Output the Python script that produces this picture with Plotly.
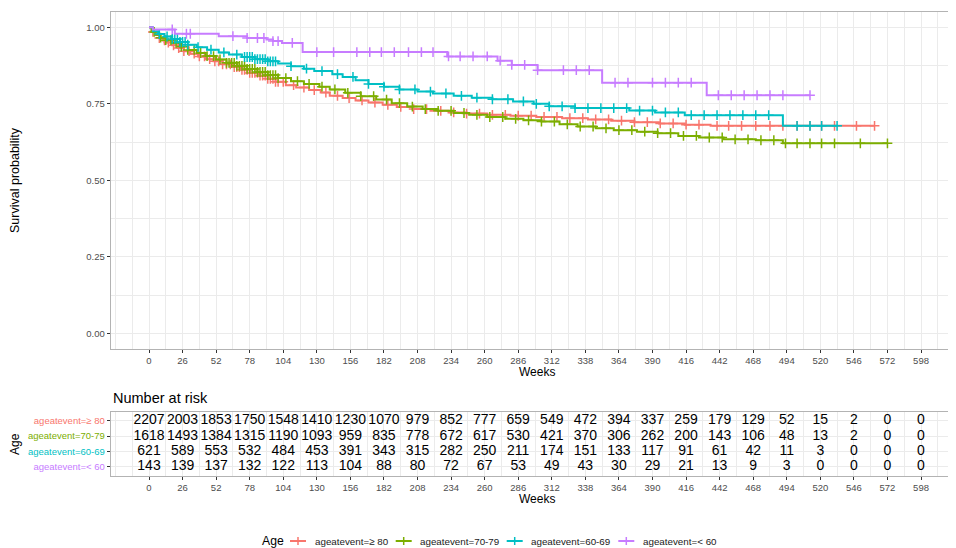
import numpy as np
import plotly.graph_objects as go

# ---------------- data ----------------
groups = ["ageatevent=\u2265 80", "ageatevent=70-79", "ageatevent=60-69", "ageatevent=< 60"]
colors = ["#F8766D", "#7CAE00", "#00BFC4", "#C77CFF"]

break_weeks = [0, 26, 52, 78, 104, 130, 156, 182, 208, 234, 260, 286, 312, 338,
               364, 390, 416, 442, 468, 494, 520, 546, 572, 598]
break_labels = [str(b) for b in break_weeks]

surv_ticks = [0, 0.25, 0.5, 0.75, 1.0]
surv_tick_labels = ["0.00", "0.25", "0.50", "0.75", "1.00"]

# step curves (event times, survival after each step), last follow-up time
t_80 = [0, 2, 5, 8, 11, 14, 18, 22, 27, 32, 38, 44, 50, 57, 64, 71, 78, 85, 92, 98, 106,
        114, 124, 133, 140, 150, 160, 170, 181, 192, 204, 218, 232, 246, 262, 280, 300,
        320, 340, 358, 376, 395, 415, 435]
s_80 = [1.0, 0.985, 0.975, 0.965, 0.957, 0.95, 0.941, 0.932, 0.922, 0.914, 0.905, 0.896,
        0.889, 0.879, 0.870, 0.861, 0.851, 0.842, 0.832, 0.822, 0.811, 0.803, 0.795, 0.787,
        0.776, 0.769, 0.761, 0.754, 0.747, 0.740, 0.733, 0.727, 0.722, 0.718, 0.714, 0.711,
        0.707, 0.703, 0.699, 0.695, 0.690, 0.686, 0.682, 0.678]
end_80 = 562

t_70 = [0, 2, 5, 9, 13, 18, 24, 30, 37, 44, 52, 60, 68, 76, 84, 92, 100, 110, 120, 132,
        140, 152, 164, 176, 188, 200, 212, 224, 236, 248, 262, 276, 290, 304, 318, 332,
        346, 360, 378, 394, 410, 426, 445, 470, 491]
s_70 = [1.0, 0.985, 0.976, 0.966, 0.958, 0.949, 0.937, 0.926, 0.916, 0.906, 0.895, 0.884,
        0.874, 0.864, 0.854, 0.844, 0.834, 0.824, 0.815, 0.806, 0.797, 0.786, 0.775, 0.764,
        0.752, 0.741, 0.733, 0.727, 0.720, 0.714, 0.707, 0.701, 0.696, 0.692, 0.683, 0.676,
        0.670, 0.664, 0.659, 0.654, 0.645, 0.640, 0.634, 0.631, 0.621]
end_70 = 572

t_60 = [0, 3, 7, 12, 18, 24, 30, 37, 45, 54, 62, 72, 82, 92, 100, 110, 120, 128, 142, 150,
        160, 170, 182, 194, 208, 220, 236, 250, 266, 282, 298, 310, 330, 372, 392, 415, 491]
s_60 = [1.0, 0.987, 0.978, 0.970, 0.962, 0.952, 0.943, 0.935, 0.927, 0.918, 0.911, 0.903,
        0.896, 0.889, 0.882, 0.873, 0.865, 0.857, 0.847, 0.838, 0.827, 0.815, 0.806, 0.797,
        0.790, 0.784, 0.776, 0.770, 0.765, 0.758, 0.750, 0.742, 0.736, 0.728, 0.722, 0.713,
        0.678]
end_60 = 533

t_lt60 = [0, 3, 20, 54, 76, 91, 96, 103, 119, 231, 270, 281, 301, 351, 432]
s_lt60 = [1.0, 0.993, 0.979, 0.971, 0.965, 0.960, 0.955, 0.949, 0.919, 0.905, 0.891, 0.877,
          0.860, 0.819, 0.778]
end_lt60 = 512

# censoring times
c_80 = [3, 8, 12, 15, 19, 23, 27, 31, 35, 39, 43, 47, 51, 54, 57, 60, 63, 66, 68, 70, 72, 74,
        76, 78, 80, 82, 84, 86, 88, 90, 92, 94, 96, 98, 100, 104, 112, 120, 128, 137, 146,
        155, 165, 175, 185, 195, 205, 215, 226, 236, 246, 256, 266, 276, 286, 296, 306, 316,
        326, 336, 346, 356, 366, 376, 386, 396, 406, 416, 426, 440, 449, 459, 470, 481, 491,
        502, 512, 521, 531, 548, 562]
c_70 = [4, 9, 13, 17, 21, 25, 30, 35, 40, 45, 50, 55, 60, 62, 64, 66, 68, 70, 72, 74, 76, 78,
        80, 82, 84, 86, 88, 90, 92, 94, 96, 98, 100, 106, 115, 124, 134, 144, 154, 164, 174,
        184, 194, 204, 214, 224, 234, 244, 254, 264, 274, 284, 294, 304, 314, 324, 334, 344,
        354, 364, 374, 384, 394, 404, 414, 424, 434, 444, 454, 464, 474, 484, 493, 502, 512,
        521, 531, 551, 572]
c_60 = [8, 14, 18, 20, 22, 24, 26, 28, 30, 38, 48, 58, 68, 74, 76, 78, 80, 82, 84, 86, 88, 90,
        92, 94, 96, 98, 110, 122, 134, 146, 158, 170, 182, 194, 206, 218, 230, 242, 254, 266,
        278, 290, 300, 310, 320, 330, 340, 350, 360, 370, 380, 390, 400, 410, 420, 430, 440,
        450, 460, 470, 480, 502, 512, 521, 533]
c_lt60 = [18, 29, 32, 65, 76, 84, 89, 96, 100, 111, 130, 143, 161, 171, 180, 190, 201, 211,
          220, 232, 241, 251, 262, 272, 281, 291, 301, 321, 331, 341, 361, 371, 390, 400, 410,
          420, 441, 451, 461, 471, 481, 491, 512]

# number at risk at break_weeks
risk_80 = [2207, 2003, 1853, 1750, 1548, 1410, 1230, 1070, 979, 852, 777, 659, 549, 472, 394,
           337, 259, 179, 129, 52, 15, 2, 0, 0]
risk_70 = [1618, 1493, 1384, 1315, 1190, 1093, 959, 835, 778, 672, 617, 530, 421, 370, 306,
           262, 200, 143, 106, 48, 13, 2, 0, 0]
risk_60 = [621, 589, 553, 532, 484, 453, 391, 343, 315, 282, 250, 211, 174, 151, 133, 117, 91,
           61, 42, 11, 3, 0, 0, 0]
risk_lt60 = [143, 139, 137, 132, 122, 113, 104, 88, 80, 72, 67, 53, 49, 43, 30, 29, 21, 13, 9,
             3, 0, 0, 0, 0]

legend_title = "Age"

# ---------------- figure ----------------
OFF = 8                      # page body margin
W, H = 956 - OFF, 548 - OFF
FONT = "Liberation Sans, Arial, sans-serif"
GRID = "#EBEBEB"
BORDER = "#B3B3B3"


def fx(px):
    return (px - OFF) / W


def fy(py):
    return 1 - (py - OFF) / H


curves = [(t_80, s_80, end_80, c_80), (t_70, s_70, end_70, c_70),
          (t_60, s_60, end_60, c_60), (t_lt60, s_lt60, end_lt60, c_lt60)]
risks = [risk_80, risk_70, risk_60, risk_lt60]

fig = go.Figure()

for (t, s, end, cens), col, name in zip(curves, colors, groups):
    xs = list(t) + [end]
    ys = list(s) + [s[-1]]
    fig.add_trace(go.Scatter(x=xs, y=ys, mode="lines", name=name,
                             line=dict(shape="hv", color=col, width=2),
                             xaxis="x", yaxis="y", showlegend=False, hoverinfo="skip"))
    idx = np.searchsorted(np.array(t), np.array(cens), side="right") - 1
    cy = [s[i] for i in idx]
    fig.add_trace(go.Scatter(x=cens, y=cy, mode="markers",
                             marker=dict(symbol="cross-thin", size=7, color=col,
                                         line=dict(color=col, width=1.5)),
                             xaxis="x", yaxis="y", showlegend=False, hoverinfo="skip"))

for k, r in enumerate(risks):
    fig.add_trace(go.Scatter(x=break_weeks, y=[k + 1] * len(break_weeks),
                             text=[str(v) for v in r], mode="text",
                             textfont=dict(size=14, color="#000000", family=FONT),
                             textposition="middle center", xaxis="x2", yaxis="y2",
                             showlegend=False, hoverinfo="skip", cliponaxis=False))

left_px, zero_px, px_per_week = 110.7, 149.0, 1.291
xr = [-(zero_px - left_px) / px_per_week, (956 - zero_px) / px_per_week]

xcommon = dict(range=xr, domain=[fx(left_px), 1.0], tickmode="array", tickvals=break_weeks,
               ticktext=break_labels, ticks="outside", ticklen=3, tickcolor="#333333",
               tickfont=dict(size=9.5, color="#4D4D4D", family=FONT),
               showgrid=True, gridcolor=GRID, gridwidth=1,
               minor=dict(dtick=13, tick0=13, showgrid=True, gridcolor=GRID, gridwidth=0.5,
                          ticks=""),
               zeroline=False, showline=True, linecolor=BORDER, linewidth=1, mirror=True)


def note(text, x, y, size, angle=0, xanchor="center", color="#000000"):
    return dict(text=text, x=fx(x), y=fy(y), xref="paper", yref="paper", xanchor=xanchor,
                yanchor="middle", textangle=angle, showarrow=False,
                font=dict(size=size, family=FONT, color=color))


annotations = [
    note("Survival probability", 15, 180, 12.5, angle=-90),
    note("Weeks", 537, 372.3, 12),
    note("Number at risk", 111, 397.7, 14.5, xanchor="left"),
    note("Age", 15, 444, 12, angle=-90),
    note("Weeks", 537, 499, 12),
    note(legend_title, 259.5, 541, 12.2, xanchor="left"),
]

# bottom legend (key = short line with a "+" censor tick, then label)
shapes = []
key_starts = [290, 395.7, 506.7, 618.3]
LEG_Y = 541
for x0, name, col in zip(key_starts, groups, colors):
    shapes.append(dict(type="line", xref="paper", yref="paper", x0=fx(x0), x1=fx(x0 + 16),
                       y0=fy(LEG_Y), y1=fy(LEG_Y), line=dict(color=col, width=2)))
    shapes.append(dict(type="line", xref="paper", yref="paper", x0=fx(x0 + 8), x1=fx(x0 + 8),
                       y0=fy(LEG_Y - 4), y1=fy(LEG_Y + 4), line=dict(color=col, width=1.5)))
    annotations.append(note(name, x0 + 22.5, LEG_Y, 9.8, xanchor="left", color="#1A1A1A"))

fig.update_layout(
    width=W, height=H, margin=dict(l=0, r=0, t=0, b=0),
    paper_bgcolor="white", plot_bgcolor="white",
    font=dict(family=FONT, color="#000000"),
    showlegend=False,
    xaxis=dict(anchor="y", **xcommon),
    yaxis=dict(domain=[fy(348.7), fy(12)], range=[-0.05, 1.05], tickmode="array",
               tickvals=surv_ticks, ticktext=surv_tick_labels, ticks="outside", ticklen=3,
               tickcolor="#333333", tickfont=dict(size=9.5, color="#4D4D4D", family=FONT),
               showgrid=True, gridcolor=GRID, gridwidth=1,
               minor=dict(tickvals=[0.125, 0.375, 0.625, 0.875], showgrid=True,
                          gridcolor=GRID, gridwidth=0.5, ticks=""),
               zeroline=False, showline=True, linecolor=BORDER, linewidth=1, mirror=True),
    xaxis2=dict(anchor="y2", **xcommon),
    yaxis2=dict(domain=[fy(475.7), fy(411.7)], range=[4.6, 0.4], tickmode="array",
                tickvals=[1, 2, 3, 4],
                ticktext=[f"<span style='color:{c}'>{g}</span>" for g, c in zip(groups, colors)],
                ticks="outside", ticklen=3, tickcolor="#333333",
                tickfont=dict(size=9.5, family=FONT),
                showgrid=True, gridcolor=GRID, gridwidth=1, zeroline=False,
                showline=True, linecolor=BORDER, linewidth=1, mirror=True),
    annotations=annotations,
    shapes=shapes,
)

fig.write_html("out.html")
